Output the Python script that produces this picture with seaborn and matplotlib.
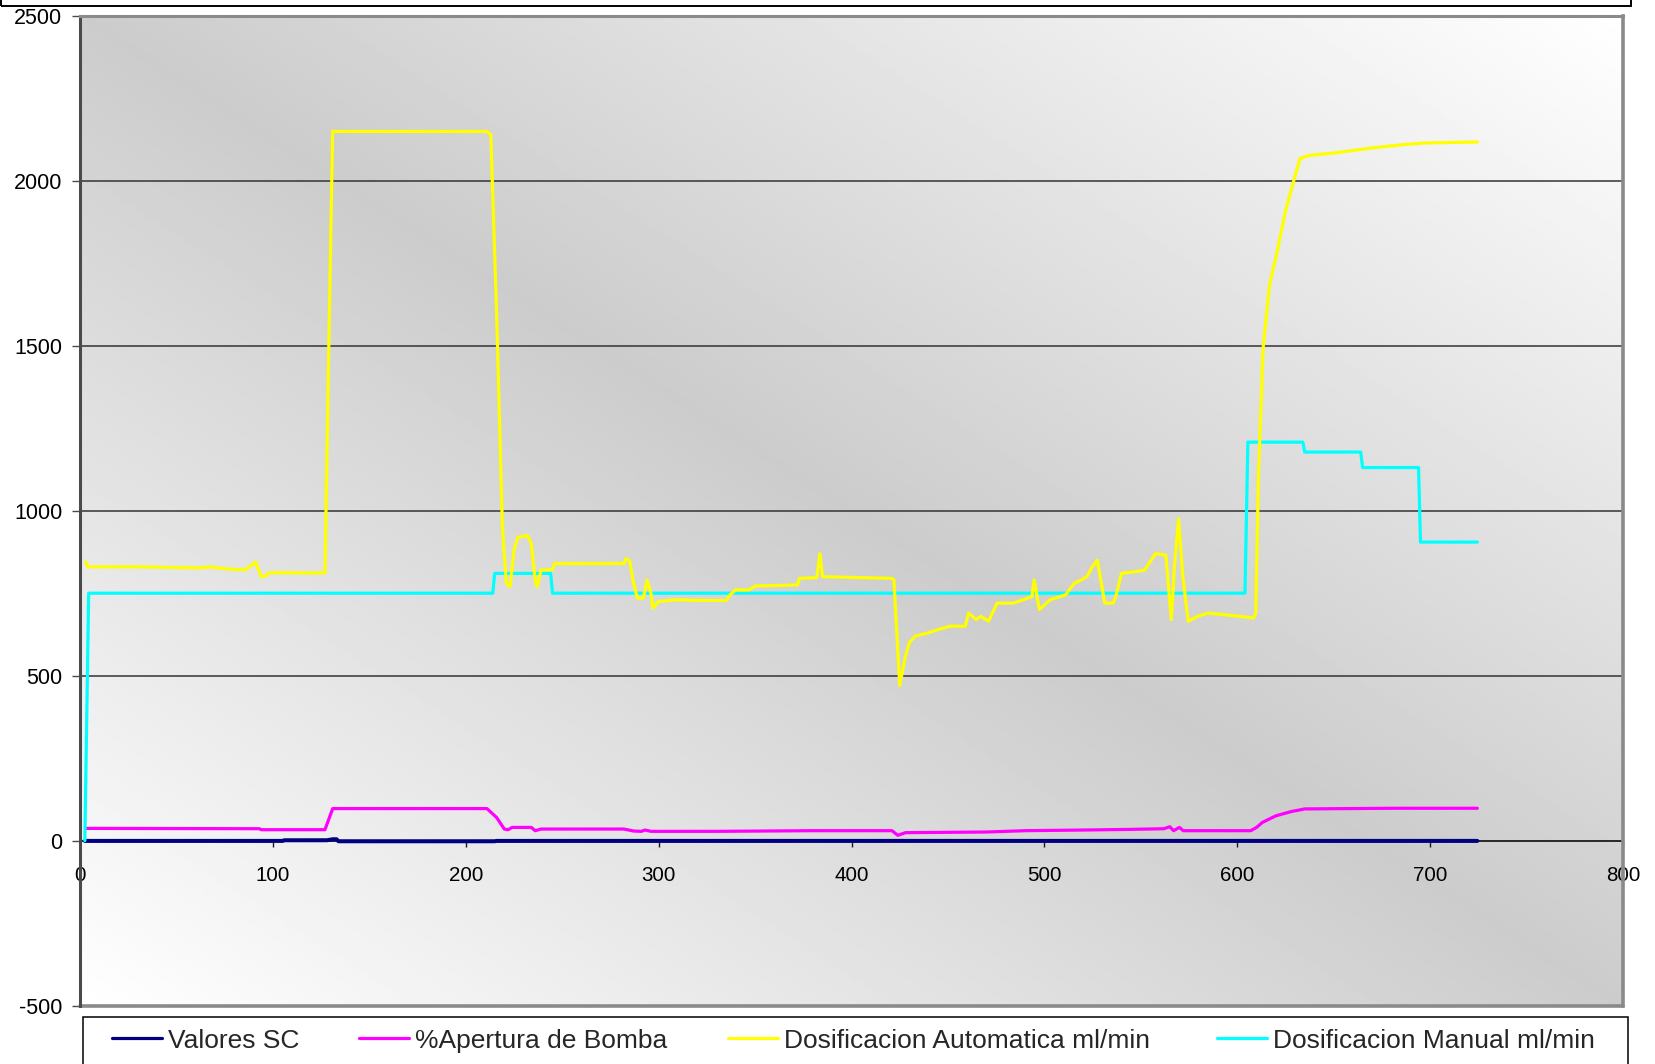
import numpy as np
import matplotlib
matplotlib.use("Agg")
import matplotlib.pyplot as plt
from matplotlib.patches import Rectangle
from matplotlib.lines import Line2D
import seaborn as sns

# ---- data (sample index vs. value) ----
sc_x = [2.5, 105, 106, 128, 131, 133, 134, 215, 216, 724.5]
sc_y = [-1, -1, 1, 1, 4, 4, -2, -2, -1, -1]

bomba_x = [3, 93, 94, 127, 131, 211, 216, 220, 222, 224, 234, 236, 239, 282, 287, 291,
           293, 296, 330, 380, 421, 424, 428, 470, 490, 520, 545, 562, 565, 567, 570, 572,
           607, 610, 613, 620, 628, 635, 680, 724.5]
bomba_y = [37, 36, 33, 33, 97, 97, 70, 35, 33, 40, 40, 30, 35, 35, 29, 28,
           32, 28, 28, 30, 30, 16, 24, 26, 30, 32, 34, 36, 42, 30, 40, 30,
           30, 40, 55, 75, 88, 96, 98, 98]

auto_x = [3, 4, 30, 50, 62, 68, 72, 80, 86, 88, 90, 91, 92, 94, 96, 98, 110, 120, 127,
          129, 131, 170, 211, 213, 216, 219, 221, 223, 225, 227, 232, 234, 236, 237, 239,
          245, 246, 282, 283, 285, 287, 289, 292, 294, 296, 297, 300, 310, 320, 335, 337,
          340, 347, 350, 372, 373, 382, 383.6, 385, 400, 421, 422, 425, 428, 430, 433,
          440, 445, 451, 459, 460.7, 464.6, 467, 471, 475.5, 484, 489, 493.6, 494.7,
          497.4, 503, 511, 515.5, 519, 522, 524.8, 527.5, 531.3, 535.7, 537, 540, 546.7,
          552, 557.6, 563, 565.8, 567.4, 569.6, 571.8, 574.6, 579.5, 585, 593, 601, 608.5,
          609.6, 611, 613.4, 616.7, 620.5, 625, 628.7, 632.5, 637, 650.6, 670, 686, 697,
          724.5]
auto_y = [845, 830, 830, 828, 827, 830, 826, 822, 822, 832, 838, 845, 830, 800, 802, 812,
          812, 811, 812, 1500, 2150, 2150, 2150, 2140, 1600, 950, 780, 770, 880, 920, 925,
          900, 790, 770, 820, 822, 840, 840, 855, 848, 780, 735, 735, 790, 750, 705, 725,
          730, 728, 728, 745, 760, 760, 772, 775, 795, 797, 870, 800, 798, 795, 790, 470,
          560, 600, 620, 630, 640, 650, 650, 690, 670, 680, 665, 720, 720, 730, 740, 790,
          700, 730, 745, 780, 790, 800, 830, 850, 720, 720, 740, 810, 815, 820, 870, 865,
          670, 830, 975, 800, 665, 680, 690, 685, 680, 675, 691, 1107, 1492, 1684, 1780,
          1908, 1988, 2068, 2077, 2085, 2100, 2110, 2115, 2118]

manual_x = [2.5, 4.5, 214, 215, 244, 245, 604, 605.5, 634, 635, 664, 665, 694, 695, 724.5]
manual_y = [0, 750, 750, 810, 810, 750, 750, 1208, 1208, 1178, 1178, 1131, 1131, 905, 905]

x_ticks = [0, 100, 200, 300, 400, 500, 600, 700, 800]
y_ticks = [-500, 0, 500, 1000, 1500, 2000, 2500]

series_names = ["Valores SC", "%Apertura de Bomba",
                "Dosificacion Automatica ml/min", "Dosificacion Manual ml/min"]
series_colors = ["#000080", "#FF00FF", "#FFFF00", "#00FFFF"]

# ---- style ----
sns.set_style("white")
plt.rcParams['font.family'] = ['Liberation Sans', 'DejaVu Sans']
plt.rcParams['axes.unicode_minus'] = False

W, H = 1655, 1064
fig = plt.figure(figsize=(W / 100, H / 100), dpi=100)
fig.patch.set_facecolor("white")
ax = fig.add_axes([80 / W, 1 - 1005.5 / H, (1623 - 80) / W, (1005.5 - 16) / H])

# diagonal two-tone gradient for the plot area
gx, gy = np.meshgrid(np.linspace(0, 1, 400), np.linspace(0, 1, 400))
shade = 0.80 + 0.20 * np.abs(gx + gy - 1)
ax.imshow(shade, cmap="gray", vmin=0, vmax=1, extent=(0, 1, 0, 1),
          transform=ax.transAxes, origin="lower", aspect="auto",
          interpolation="bilinear", zorder=0)

# horizontal gridlines
for t in y_ticks:
    if y_ticks[1] < t < y_ticks[-1]:
        ax.axhline(t, color="#333333", lw=1.1, zorder=1)

lw = 2.3
sns.lineplot(x=sc_x, y=sc_y, ax=ax, color=series_colors[0], linewidth=lw + 0.6,
             estimator=None, sort=False, legend=False, zorder=3)
sns.lineplot(x=bomba_x, y=bomba_y, ax=ax, color=series_colors[1], linewidth=lw,
             estimator=None, sort=False, legend=False, zorder=3)
sns.lineplot(x=manual_x, y=manual_y, ax=ax, color=series_colors[3], linewidth=lw,
             estimator=None, sort=False, legend=False, zorder=4)
sns.lineplot(x=auto_x, y=auto_y, ax=ax, color=series_colors[2], linewidth=lw,
             estimator=None, sort=False, legend=False, zorder=5)

ax.set_xlim(x_ticks[0], x_ticks[-1])
ax.set_ylim(y_ticks[0], y_ticks[-1])
ax.set_xticks(x_ticks)
ax.set_yticks(y_ticks)
ax.set_xlabel("")
ax.set_ylabel("")

# frame: category axis crosses at zero
ax.spines["bottom"].set_position(("data", 0))
ax.spines["bottom"].set_color("#1a1a1a")
ax.spines["bottom"].set_linewidth(1.3)
ax.spines["bottom"].set_zorder(2)
ax.spines["left"].set_color("#4a4a4a")
ax.spines["left"].set_linewidth(2.2)
ax.spines["top"].set_color("#8a8a8a")
ax.spines["top"].set_linewidth(2.2)
ax.spines["right"].set_color("#8a8a8a")
ax.spines["right"].set_linewidth(2.6)
for s in ax.spines.values():
    s.set_visible(True)
ax.axhline(y_ticks[0], color="#8a8a8a", lw=2.6, clip_on=False, zorder=2)

ax.tick_params(axis="y", left=True, direction="out", length=5.8, width=1.0,
               color="#4a4a4a", pad=7, labelsize=15.5, labelcolor="black")
ax.tick_params(axis="x", bottom=True, direction="out", length=4.3, width=1.0,
               color="#1a1a1a", pad=14, labelsize=14.8, labelcolor="black")

# legend entries placed along one row
legend_x = [111.7, 359, 728, 1217]
legend_y = 1040.7
for name, col, lx in zip(series_names, series_colors, legend_x):
    h = Line2D([], [], color=col, lw=lw)
    fig.legend(handles=[h], labels=[name], loc="center left",
               bbox_to_anchor=(lx / W, 1 - legend_y / H), frameon=False,
               fontsize=19, handlelength=1.9, handletextpad=0.22,
               borderpad=0, borderaxespad=0)

# legend frame and clipped title frame
fig.add_artist(Rectangle((82.7 / W, -0.02), (1628 - 82.7) / W, (H - 1016.5) / H + 0.02,
                         transform=fig.transFigure, fill=False,
                         edgecolor="black", lw=1.1))
fig.add_artist(Rectangle((0.8 / W, 1 - 6 / H), (1631 - 0.8) / W, 0.05,
                         transform=fig.transFigure, fill=False,
                         edgecolor="black", lw=1.4))

fig.savefig("out.png", dpi=100, facecolor="white")
